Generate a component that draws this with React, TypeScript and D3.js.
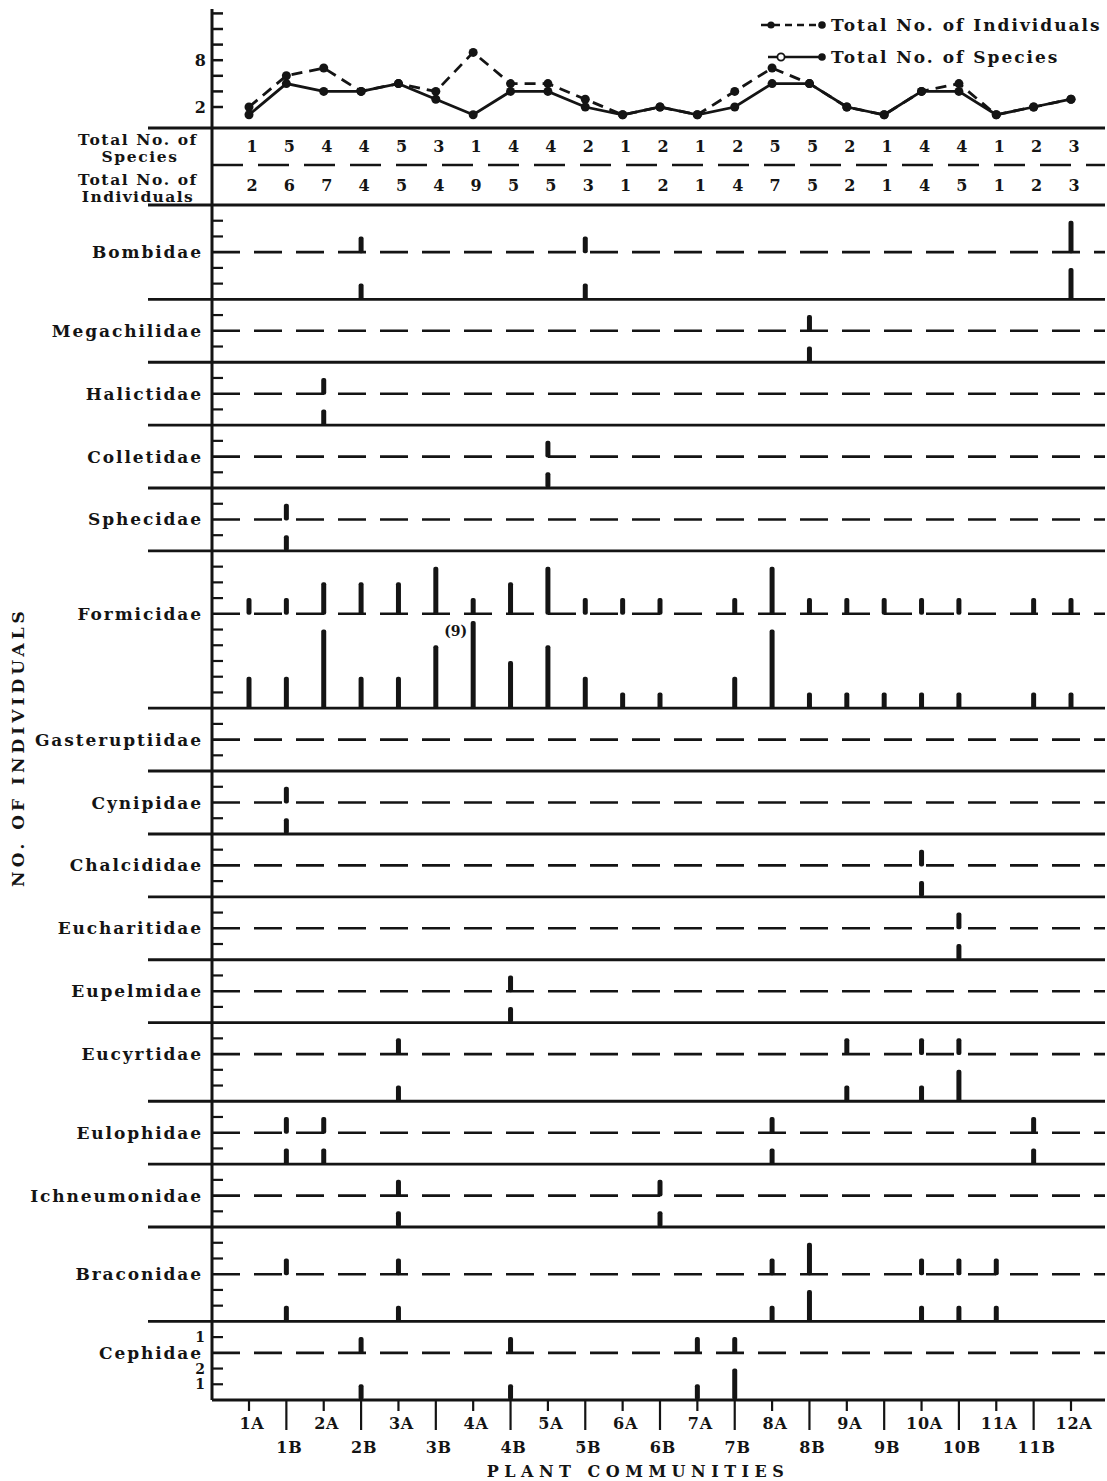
import React from 'react';
import * as d3 from 'd3';

const sites = ['1A','1B','2A','2B','3A','3B','4A','4B','5A','5B','6A','6B','7A','7B','8A','8B','9A','9B','10A','10B','11A','11B','12A'];
const totalSpecies = [1,5,4,4,5,3,1,4,4,2,1,2,1,2,5,5,2,1,4,4,1,2,3];
const totalIndividuals = [2,6,7,4,5,4,9,5,5,3,1,2,1,4,7,5,2,1,4,5,1,2,3];
const topTicks = [2,4,6,8,10,12,14];
const topTickLabels = ['2','8'];

const bombidaeSp =        [0,0,0,1,0,0,0,0,0,1,0,0,0,0,0,0,0,0,0,0,0,0,2];
const bombidaeInd =       [0,0,0,1,0,0,0,0,0,1,0,0,0,0,0,0,0,0,0,0,0,0,2];
const megachilidaeSp =    [0,0,0,0,0,0,0,0,0,0,0,0,0,0,0,1,0,0,0,0,0,0,0];
const megachilidaeInd =   [0,0,0,0,0,0,0,0,0,0,0,0,0,0,0,1,0,0,0,0,0,0,0];
const halictidaeSp =      [0,0,1,0,0,0,0,0,0,0,0,0,0,0,0,0,0,0,0,0,0,0,0];
const halictidaeInd =     [0,0,1,0,0,0,0,0,0,0,0,0,0,0,0,0,0,0,0,0,0,0,0];
const colletidaeSp =      [0,0,0,0,0,0,0,0,1,0,0,0,0,0,0,0,0,0,0,0,0,0,0];
const colletidaeInd =     [0,0,0,0,0,0,0,0,1,0,0,0,0,0,0,0,0,0,0,0,0,0,0];
const sphecidaeSp =       [0,1,0,0,0,0,0,0,0,0,0,0,0,0,0,0,0,0,0,0,0,0,0];
const sphecidaeInd =      [0,1,0,0,0,0,0,0,0,0,0,0,0,0,0,0,0,0,0,0,0,0,0];
const formicidaeSp =      [1,1,2,2,2,3,1,2,3,1,1,1,0,1,3,1,1,1,1,1,0,1,1];
const formicidaeInd =     [2,2,5,2,2,4,9,3,4,2,1,1,0,2,5,1,1,1,1,1,0,1,1];
const gasteruptiidaeSp =  [0,0,0,0,0,0,0,0,0,0,0,0,0,0,0,0,0,0,0,0,0,0,0];
const gasteruptiidaeInd = [0,0,0,0,0,0,0,0,0,0,0,0,0,0,0,0,0,0,0,0,0,0,0];
const cynipidaeSp =       [0,1,0,0,0,0,0,0,0,0,0,0,0,0,0,0,0,0,0,0,0,0,0];
const cynipidaeInd =      [0,1,0,0,0,0,0,0,0,0,0,0,0,0,0,0,0,0,0,0,0,0,0];
const chalcididaeSp =     [0,0,0,0,0,0,0,0,0,0,0,0,0,0,0,0,0,0,1,0,0,0,0];
const chalcididaeInd =    [0,0,0,0,0,0,0,0,0,0,0,0,0,0,0,0,0,0,1,0,0,0,0];
const eucharitidaeSp =    [0,0,0,0,0,0,0,0,0,0,0,0,0,0,0,0,0,0,0,1,0,0,0];
const eucharitidaeInd =   [0,0,0,0,0,0,0,0,0,0,0,0,0,0,0,0,0,0,0,1,0,0,0];
const eupelmidaeSp =      [0,0,0,0,0,0,0,1,0,0,0,0,0,0,0,0,0,0,0,0,0,0,0];
const eupelmidaeInd =     [0,0,0,0,0,0,0,1,0,0,0,0,0,0,0,0,0,0,0,0,0,0,0];
const eucyrtidaeSp =      [0,0,0,0,1,0,0,0,0,0,0,0,0,0,0,0,1,0,1,1,0,0,0];
const eucyrtidaeInd =     [0,0,0,0,1,0,0,0,0,0,0,0,0,0,0,0,1,0,1,2,0,0,0];
const eulophidaeSp =      [0,1,1,0,0,0,0,0,0,0,0,0,0,0,1,0,0,0,0,0,0,1,0];
const eulophidaeInd =     [0,1,1,0,0,0,0,0,0,0,0,0,0,0,1,0,0,0,0,0,0,1,0];
const ichneumonidaeSp =   [0,0,0,0,1,0,0,0,0,0,0,1,0,0,0,0,0,0,0,0,0,0,0];
const ichneumonidaeInd =  [0,0,0,0,1,0,0,0,0,0,0,1,0,0,0,0,0,0,0,0,0,0,0];
const braconidaeSp =      [0,1,0,0,1,0,0,0,0,0,0,0,0,0,1,2,0,0,1,1,1,0,0];
const braconidaeInd =     [0,1,0,0,1,0,0,0,0,0,0,0,0,0,1,2,0,0,1,1,1,0,0];
const cephidaeSp =        [0,0,0,1,0,0,0,1,0,0,0,0,1,1,0,0,0,0,0,0,0,0,0];
const cephidaeInd =       [0,0,0,1,0,0,0,1,0,0,0,0,1,2,0,0,0,0,0,0,0,0,0];
const cephidaeUpperTickLabels = ['1'];
const cephidaeLowerTickLabels = ['1','2'];

const familyNames = ['Bombidae','Megachilidae','Halictidae','Colletidae','Sphecidae','Formicidae','Gasteruptiidae','Cynipidae','Chalcididae','Eucharitidae','Eupelmidae','Eucyrtidae','Eulophidae','Ichneumonidae','Braconidae','Cephidae'];
const familySpecies = [bombidaeSp,megachilidaeSp,halictidaeSp,colletidaeSp,sphecidaeSp,formicidaeSp,gasteruptiidaeSp,cynipidaeSp,chalcididaeSp,eucharitidaeSp,eupelmidaeSp,eucyrtidaeSp,eulophidaeSp,ichneumonidaeSp,braconidaeSp,cephidaeSp];
const familyIndividuals = [bombidaeInd,megachilidaeInd,halictidaeInd,colletidaeInd,sphecidaeInd,formicidaeInd,gasteruptiidaeInd,cynipidaeInd,chalcididaeInd,eucharitidaeInd,eupelmidaeInd,eucyrtidaeInd,eulophidaeInd,ichneumonidaeInd,braconidaeInd,cephidaeInd];

const INK = '#141414';
const FONT = "'DejaVu Serif', 'Liberation Serif', serif";

export default function App() {
  const W = 1107, H = 1481;
  const axisX = 212;
  const leftX = 148;
  const rightX = 1105;
  const x = d3.scalePoint<string>().domain(sites).range([249, 1071]);
  const yTop = d3.scaleLinear().domain([0, 14]).range([122.6, 13.4]);

  const tableTop = 128, tableMid = 165, tableBottom = 205;
  const plotBottom = 1400;
  const maxLower = 5;

  const panels = familyNames.map((name, i) => {
    const sp = familySpecies[i];
    const ind = familyIndividuals[i];
    const nU = Math.max(1, d3.max(sp) || 0);
    const nL = Math.min(maxLower, Math.max(1, d3.max(ind) || 0));
    return { name, sp, ind, nU, nL, units: nU + 1 + nL + 1 };
  });
  const totalUnits = d3.sum(panels, p => p.units);
  const u = (plotBottom - tableBottom) / totalUnits;
  let cursor = tableBottom;
  const laid = panels.map(p => {
    const top = cursor;
    const dashY = top + (p.nU + 1) * u;
    const bottom = dashY + (p.nL + 1) * u;
    cursor = bottom;
    return { ...p, top, dashY, bottom };
  });

  const lineGen = d3.line<number>().x((_, i) => x(sites[i]) as number).y(d => yTop(d));

  const tickLen = 11;
  const barW = 5;

  return (
    <svg width={W} height={H} style={{ position: 'absolute', left: 0, top: 0, background: '#fff' }}
      fontFamily={FONT} fontWeight="bold" fill={INK}>
      <rect x={0} y={0} width={W} height={H} fill="#fff" />
      {/* vertical axis */}
      <line x1={axisX} x2={axisX} y1={9} y2={plotBottom} stroke={INK} strokeWidth={3} />
      {/* top chart ticks */}
      {topTicks.map(t => (
        <line key={'tt' + t} x1={axisX} x2={axisX + tickLen} y1={yTop(t)} y2={yTop(t)} stroke={INK} strokeWidth={2.5} />
      ))}
      {topTickLabels.map(l => (
        <text key={'tl' + l} x={axisX - 6} y={yTop(+l) + 6} textAnchor="end" fontSize={16}>{l}</text>
      ))}
      {/* lines */}
      <path d={lineGen(totalIndividuals) || ''} fill="none" stroke={INK} strokeWidth={2.8} strokeDasharray="11 7" />
      <path d={lineGen(totalSpecies) || ''} fill="none" stroke={INK} strokeWidth={2.8} />
      {totalIndividuals.map((v, i) => (
        <circle key={'ci' + i} cx={x(sites[i])} cy={yTop(v)} r={4.5} fill={INK} />
      ))}
      {totalSpecies.map((v, i) => (
        <circle key={'cs' + i} cx={x(sites[i])} cy={yTop(v)} r={4.5} fill={INK} />
      ))}
      {/* legend */}
      <line x1={761} x2={822} y1={25} y2={25} stroke={INK} strokeWidth={2.4} strokeDasharray="7 5" />
      <circle cx={771} cy={25} r={3.6} fill={INK} />
      <circle cx={822} cy={25} r={3.8} fill={INK} />
      <text x={831} y={31} fontSize={17} letterSpacing={2}>Total No. of Individuals</text>
      <line x1={768} x2={822} y1={57} y2={57} stroke={INK} strokeWidth={2.4} />
      <circle cx={781} cy={57} r={3.6} fill="#fff" stroke={INK} strokeWidth={1.8} />
      <circle cx={822} cy={57} r={3.8} fill={INK} />
      <text x={831} y={63} fontSize={17} letterSpacing={2}>Total No. of Species</text>

      {/* table */}
      <line x1={leftX} x2={rightX} y1={tableTop} y2={tableTop} stroke={INK} strokeWidth={3} />
      <line x1={axisX} x2={rightX} y1={tableMid} y2={tableMid} stroke={INK} strokeWidth={2.4} strokeDasharray="31 15" />
      <line x1={leftX} x2={rightX} y1={tableBottom} y2={tableBottom} stroke={INK} strokeWidth={3} />
      <text x={138} y={145} textAnchor="middle" fontSize={15.5} letterSpacing={1.6}>Total No. of</text>
      <text x={140} y={162} textAnchor="middle" fontSize={15.5} letterSpacing={1.6}>Species</text>
      <text x={138} y={185} textAnchor="middle" fontSize={15.5} letterSpacing={1.6}>Total No. of</text>
      <text x={138} y={202} textAnchor="middle" fontSize={15.5} letterSpacing={1.4}>Individuals</text>
      {totalSpecies.map((v, i) => (
        <text key={'ts' + i} x={(x(sites[i]) as number) + 3} y={152} textAnchor="middle" fontSize={16}>{v}</text>
      ))}
      {totalIndividuals.map((v, i) => (
        <text key={'tn' + i} x={(x(sites[i]) as number) + 3} y={191} textAnchor="middle" fontSize={16}>{v}</text>
      ))}

      {/* family panels */}
      {laid.map((p, pi) => {
        const isLast = pi === laid.length - 1;
        const els: any[] = [];
        els.push(<text key="lab" x={203} y={p.dashY + 6} textAnchor="end" fontSize={17} letterSpacing={1.9}>{p.name}</text>);
        els.push(<line key="dash" x1={axisX} x2={rightX} y1={p.dashY} y2={p.dashY} stroke={INK} strokeWidth={2.6} strokeDasharray="28 14" />);
        els.push(<line key="bot" x1={isLast ? axisX : leftX} x2={rightX} y1={p.bottom} y2={p.bottom} stroke={INK} strokeWidth={2.9} />);
        for (let k = 1; k <= p.nU; k++) {
          els.push(<line key={'tu' + k} x1={axisX} x2={axisX + tickLen} y1={p.dashY - k * u} y2={p.dashY - k * u} stroke={INK} strokeWidth={2.2} />);
        }
        for (let k = 1; k <= p.nL; k++) {
          els.push(<line key={'tlw' + k} x1={axisX} x2={axisX + tickLen} y1={p.bottom - k * u} y2={p.bottom - k * u} stroke={INK} strokeWidth={2.2} />);
        }
        if (p.name === 'Cephidae') {
          cephidaeUpperTickLabels.forEach((l, k) => {
            els.push(<text key={'cu' + k} x={205} y={p.dashY - (k + 1) * u + 5} textAnchor="end" fontSize={14}>{l}</text>);
          });
          cephidaeLowerTickLabels.forEach((l, k) => {
            els.push(<text key={'cl' + k} x={205} y={p.bottom - (k + 1) * u + 5} textAnchor="end" fontSize={14}>{l}</text>);
          });
        }
        p.sp.forEach((v, i) => {
          if (!v) return;
          const h = v * u;
          els.push(<rect key={'bu' + i} x={(x(sites[i]) as number) - barW / 2} y={p.dashY - h} width={barW} height={h + 1} rx={2} fill={INK} />);
        });
        p.ind.forEach((v, i) => {
          if (!v) return;
          const clipped = Math.min(v, p.nL + 0.55);
          const h = clipped * u;
          els.push(<rect key={'bl' + i} x={(x(sites[i]) as number) - barW / 2} y={p.bottom - h} width={barW} height={h} rx={2} fill={INK} />);
          if (v > p.nL) {
            els.push(<text key={'ov' + i} x={(x(sites[i]) as number) - 6} y={p.bottom - h + 15} textAnchor="end" fontSize={14}>({v})</text>);
          }
        });
        return <g key={p.name}>{els}</g>;
      })}

      {/* bottom axis */}
      {sites.map((s, i) => {
        const isA = i % 2 === 0;
        const xx = x(s) as number;
        return (
          <g key={'ax' + s}>
            <line x1={xx} x2={xx} y1={plotBottom} y2={plotBottom + (isA ? 11 : 30)} stroke={INK} strokeWidth={2.2} />
            <text x={xx + 3} y={isA ? 1429 : 1453} textAnchor="middle" fontSize={16} letterSpacing={0.8}>{s}</text>
          </g>
        );
      })}
      <text x={638} y={1477} textAnchor="middle" fontSize={16} letterSpacing={5.5}>PLANT   COMMUNITIES</text>
      <text transform="translate(24,747) rotate(-90)" textAnchor="middle" fontSize={17} letterSpacing={4}>NO. OF INDIVIDUALS</text>
    </svg>
  );
}
